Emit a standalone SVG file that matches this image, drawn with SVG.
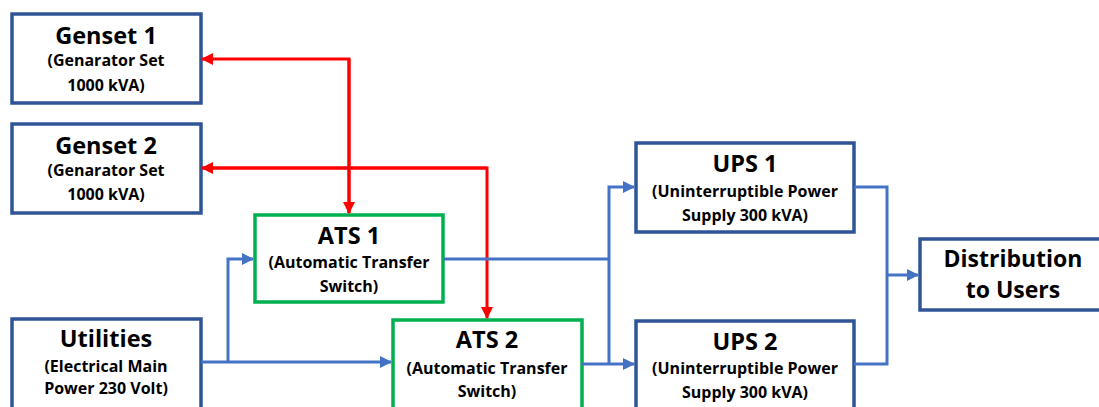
<svg xmlns="http://www.w3.org/2000/svg" width="1099" height="407" viewBox="0 0 1099 407">
<style>
.box{fill:#fff;stroke:#2F5597;stroke-width:3.5}
.ats{fill:#fff;stroke:#00B050;stroke-width:3.5}
.t{font-family:"Open Sans","Noto Sans",sans-serif;font-weight:bold;fill:#000;text-anchor:middle}
.h{font-size:23.5px}
.s{font-size:16px}
.d{font-size:23px}
.red{fill:none;stroke:#FF0000;stroke-width:3}
.blue{fill:none;stroke:#4472C4;stroke-width:3}
</style>
<defs>
<marker id="ar" markerUnits="userSpaceOnUse" markerWidth="12" markerHeight="12" refX="11" refY="6" orient="auto"><path d="M0,0 L12,6 L0,12 Z" fill="#FF0000"/></marker>
<marker id="ab" markerUnits="userSpaceOnUse" markerWidth="12" markerHeight="12" refX="11" refY="6" orient="auto"><path d="M0,0 L12,6 L0,12 Z" fill="#4472C4"/></marker>
</defs>
<g id="genset1"><rect class="box" x="12" y="14" width="189" height="89"/>
<text class="t h" x="106" y="44">Genset 1</text>
<text class="t s" x="106" y="66">(Genarator Set</text>
<text class="t s" x="106" y="91">1000 kVA)</text></g>
<g id="genset2"><rect class="box" x="12" y="124" width="189" height="89"/>
<text class="t h" x="106" y="154">Genset 2</text>
<text class="t s" x="106" y="176">(Genarator Set</text>
<text class="t s" x="106" y="200">1000 kVA)</text></g>
<g id="utilities"><rect class="box" x="12" y="319" width="189" height="100"/>
<text class="t h" x="106" y="347">Utilities</text>
<text class="t s" x="106" y="372">(Electrical Main</text>
<text class="t s" x="106" y="394">Power 230 Volt)</text></g>
<g id="ats1"><rect class="ats" x="255" y="215" width="188" height="87"/>
<text class="t h" x="349" y="244">ATS 1</text>
<text class="t s" x="349" y="268">(Automatic Transfer</text>
<text class="t s" x="349" y="292">Switch)</text></g>
<g id="ats2"><rect class="ats" x="393" y="320" width="189" height="100"/>
<text class="t h" x="487" y="348">ATS 2</text>
<text class="t s" x="487" y="374">(Automatic Transfer</text>
<text class="t s" x="487" y="397">Switch)</text></g>
<g id="ups1"><rect class="box" x="636" y="143" width="218" height="89"/>
<text class="t h" x="745" y="172">UPS 1</text>
<text class="t s" x="745" y="197">(Uninterruptible Power</text>
<text class="t s" x="745" y="221">Supply 300 kVA)</text></g>
<g id="ups2"><rect class="box" x="636" y="321" width="218" height="100"/>
<text class="t h" x="745" y="350">UPS 2</text>
<text class="t s" x="745" y="374">(Uninterruptible Power</text>
<text class="t s" x="745" y="398">Supply 300 kVA)</text></g>
<g id="distribution"><rect class="box" x="920" y="239" width="185" height="71"/>
<text class="t d" x="1013" y="267">Distribution</text>
<text class="t d" x="1013" y="298">to Users</text></g>
<g id="connectors">
<path class="red" d="M349,213 V59 H202" marker-end="url(#ar)"/>
<path class="red" d="M349,59 V213" marker-end="url(#ar)"/>
<path class="red" d="M202,168 H487 V318" marker-end="url(#ar)"/>
<path class="red" d="M487,168 H202" marker-end="url(#ar)"/>
<path class="blue" d="M201,362 H391" marker-end="url(#ab)"/>
<path class="blue" d="M228,362 V259 H253" marker-end="url(#ab)"/>
<path class="blue" d="M443,259 H609"/>
<path class="blue" d="M609,364 V187 H634" marker-end="url(#ab)"/>
<path class="blue" d="M582,364 H634" marker-end="url(#ab)"/>
<path class="blue" d="M854,187 H887 V364 H854"/>
<path class="blue" d="M887,275 H918" marker-end="url(#ab)"/>
</g>
</svg>
